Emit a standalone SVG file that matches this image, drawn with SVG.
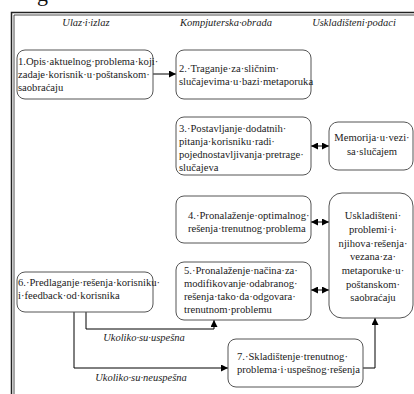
<svg xmlns="http://www.w3.org/2000/svg" width="414" height="394" viewBox="0 0 414 394">
<defs>
<style>
.bx{fill:#fff;stroke:#555;stroke-width:1}
.t{font-family:'Liberation Serif',serif;font-size:10.6px;fill:#1a1a1a}
.h{font-family:'Liberation Serif',serif;font-size:10.5px;font-style:italic;fill:#1a1a1a}
.c{text-anchor:middle}
.ln{fill:none;stroke:#000;stroke-width:1}
.fr{fill:none;stroke:#222}
</style>
<marker id="ah" viewBox="0 0 10 10" refX="10" refY="5" markerWidth="7" markerHeight="7" orient="auto-start-reverse" markerUnits="userSpaceOnUse">
<path d="M0,0 L10,5 L0,10 z" fill="#000"/>
</marker>
</defs>
<rect width="414" height="394" fill="#fff"/>
<text x="37" y="1" font-family="'Liberation Serif', serif" font-size="22" fill="#111">g</text>
<g id="frame">
<path class="fr" stroke-width="1.5" d="M11.5,394 V12.5 H414"/>
<path class="fr" stroke-width="0.8" d="M14,394 V15 H414"/>
</g>
<g id="headers">
<text class="h c" x="86" y="26">Ulaz·i·izlaz</text>
<text class="h c" x="226" y="26">Kompjuterska·obrada</text>
<text class="h c" x="354" y="26">Uskladišteni·podaci</text>
</g>
<g id="connectors">
<line class="ln" x1="153" y1="74" x2="176" y2="74" marker-end="url(#ah)"/>
<line class="ln" x1="311" y1="146" x2="329" y2="146" marker-start="url(#ah)" marker-end="url(#ah)"/>
<line class="ln" x1="311" y1="222" x2="329" y2="222" marker-start="url(#ah)" marker-end="url(#ah)"/>
<line class="ln" x1="311" y1="290" x2="329" y2="290" marker-start="url(#ah)" marker-end="url(#ah)"/>
<polyline class="ln" points="86,312 86,329 214,329 214,320" marker-end="url(#ah)"/>
<polyline class="ln" points="74,312 74,368 228,368" marker-end="url(#ah)"/>
<polyline class="ln" points="363,368 375,368 375,318" marker-end="url(#ah)"/>
<text class="h c" x="144" y="341">Ukoliko·su·uspešna</text>
<text class="h c" x="141" y="381">Ukoliko·su·neuspešna</text>
</g>
<g id="n1">
<rect class="bx" x="17" y="50" width="136" height="49" rx="8"/>
<text class="t" x="18" y="65">1.Opis·aktuelnog·problema·koji·</text>
<text class="t" x="18" y="78">zadaje·korisnik·u·poštanskom·</text>
<text class="t" x="18" y="91">saobraćaju</text>
</g>
<g id="n2">
<rect class="bx" x="176" y="50" width="135" height="49" rx="8"/>
<text class="t" x="179" y="72">2.·Traganje·za·sličnim·</text>
<text class="t" x="179" y="85">slučajevima·u·bazi·metaporuka</text>
</g>
<g id="n3">
<rect class="bx" x="176" y="117" width="135" height="58" rx="8"/>
<text class="t" x="179" y="132">3.·Postavljanje·dodatnih·</text>
<text class="t" x="179" y="145">pitanja·korisniku·radi·</text>
<text class="t" x="179" y="158">pojednostavljivanja·pretrage·</text>
<text class="t" x="179" y="171">slučajeva</text>
</g>
<g id="mem">
<rect class="bx" x="329" y="122" width="84" height="48" rx="9"/>
<text class="t c" x="372" y="141">Memorija·u·vezi·</text>
<text class="t c" x="372" y="155">sa·slučajem</text>
</g>
<g id="n4">
<rect class="bx" x="176" y="196" width="135" height="47" rx="8"/>
<text class="t" x="188" y="219">4.·Pronalaženje·optimalnog·</text>
<text class="t" x="188" y="232">rešenja·trenutnog·problema</text>
</g>
<g id="store">
<rect class="bx" x="329" y="193" width="84" height="125" rx="13"/>
<text class="t c" x="373" y="219">Uskladišteni·</text>
<text class="t c" x="373" y="233">problemi·i·</text>
<text class="t c" x="373" y="247">njihova·rešenja·</text>
<text class="t c" x="373" y="260">vezana·za·</text>
<text class="t c" x="373" y="274">metaporuke·u·</text>
<text class="t c" x="373" y="288">poštanskom·</text>
<text class="t c" x="373" y="301">saobraćaju</text>
</g>
<g id="n5">
<rect class="bx" x="176" y="262" width="135" height="58" rx="8"/>
<text class="t" x="184" y="274">5.·Pronalaženje·načina·za·</text>
<text class="t" x="184" y="287">modifikovanje·odabranog·</text>
<text class="t" x="184" y="300">rešenja·tako·da·odgovara·</text>
<text class="t" x="184" y="313">trenutnom·problemu</text>
</g>
<g id="n6">
<rect class="bx" x="17" y="272" width="136" height="40" rx="8"/>
<text class="t" x="18" y="286">6.·Predlaganje·rešenja·korisniku·</text>
<text class="t" x="18" y="299">i·feedback·od·korisnika</text>
</g>
<g id="n7">
<rect class="bx" x="228" y="339" width="135" height="48" rx="8"/>
<text class="t" x="237" y="360">7.·Skladištenje·trenutnog·</text>
<text class="t" x="237" y="373">problema·i·uspešnog·rešenja</text>
</g>
</svg>
